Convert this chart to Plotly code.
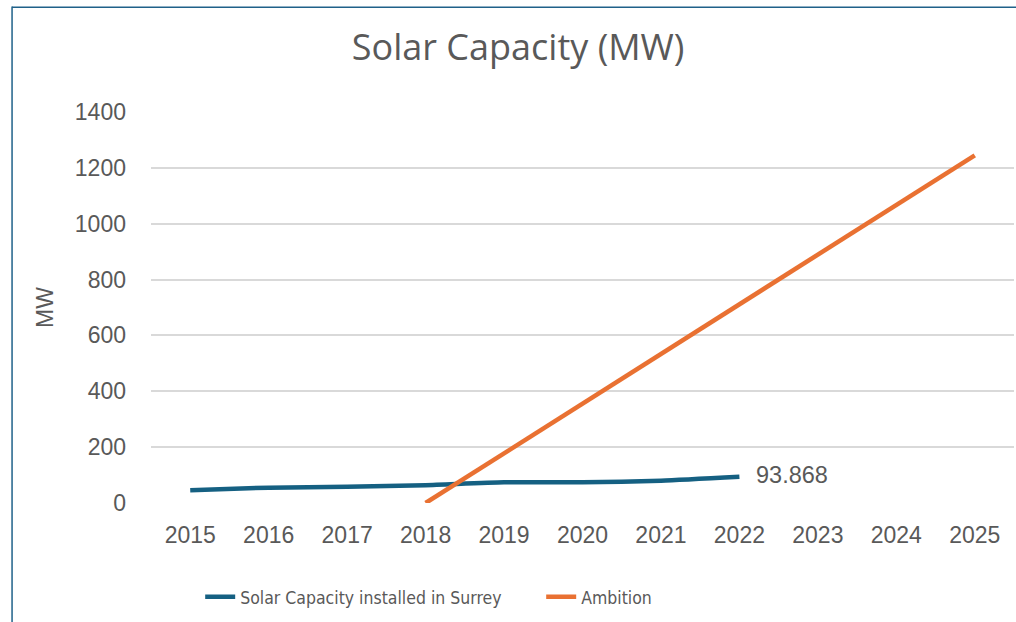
import plotly.graph_objects as go

years = ["2015", "2016", "2017", "2018", "2019", "2020", "2021", "2022", "2023", "2024", "2025"]

surrey_years = ["2015", "2016", "2017", "2018", "2019", "2020", "2021", "2022"]
surrey_mw = [46, 55, 58, 64, 74, 74, 80, 93.868]

ambition_years = ["2018", "2019", "2020", "2021", "2022", "2023", "2024", "2025"]
ambition_mw = [0, 178, 356, 534, 712, 890, 1068, 1245]

grey = "#595959"
tick_font = dict(family="Liberation Sans, Arial", size=23, color=grey)

fig = go.Figure()
fig.add_trace(go.Scatter(
    x=surrey_years, y=surrey_mw, mode="lines",
    name="Solar Capacity installed in Surrey",
    line=dict(color="#156082", width=4.5, shape="spline", smoothing=0.6),
))
fig.add_trace(go.Scatter(
    x=ambition_years, y=ambition_mw, mode="lines",
    name="Ambition",
    line=dict(color="#E97132", width=4.5),
))

# data label on the last installed value (category index, since "2022" would be read as a number)
fig.add_annotation(
    x=years.index(surrey_years[-1]), y=surrey_mw[-1], text=f"{surrey_mw[-1]:g}",
    showarrow=False, xanchor="left", xshift=15, yshift=2,
    font=dict(family="Liberation Sans, Arial", size=23.5, color=grey),
)

# chart frame: only the left and top edges fall inside the picture
frame = dict(color="#1F6189", width=1.5)
fig.add_shape(type="line", xref="paper", yref="paper",
              x0=-0.161, x1=-0.161, y0=-2, y1=1.27, line=frame)
fig.add_shape(type="line", xref="paper", yref="paper",
              x0=-0.161, x1=2, y0=1.268, y1=1.268, line=frame)

fig.update_layout(
    width=1016, height=622,
    margin=dict(l=151, r=2, t=112, b=119),
    paper_bgcolor="white", plot_bgcolor="white",
    title=dict(
        text="Solar Capacity (MW)", x=0.51, xanchor="center",
        y=1 - 47 / 622, yanchor="middle",
        font=dict(family="Open Sans", size=36, color=grey),
    ),
    showlegend=True,
    legend=dict(
        orientation="h", x=0.057, xanchor="left", y=-0.24, yanchor="middle",
        font=dict(family="DejaVu Sans Condensed, Liberation Sans", size=17.5, color=grey),
        entrywidth=296,
    ),
    xaxis=dict(
        type="category", categoryorder="array", categoryarray=years,
        range=[-0.5, 10.5], showgrid=False, showline=False, zeroline=False,
        ticklabelstandoff=16,
        tickfont=tick_font,
    ),
    yaxis=dict(
        range=[0, 1400], dtick=200, showgrid=True, gridcolor="#D9D9D9", gridwidth=1.5,
        zeroline=False, showline=False,
        ticklabelstandoff=24,
        tickfont=tick_font,
        title=dict(text="MW", standoff=14, font=tick_font),
    ),
)

fig.write_html("out.html", config={"displayModeBar": False},
               post_script="document.body.style.margin='0px';")
